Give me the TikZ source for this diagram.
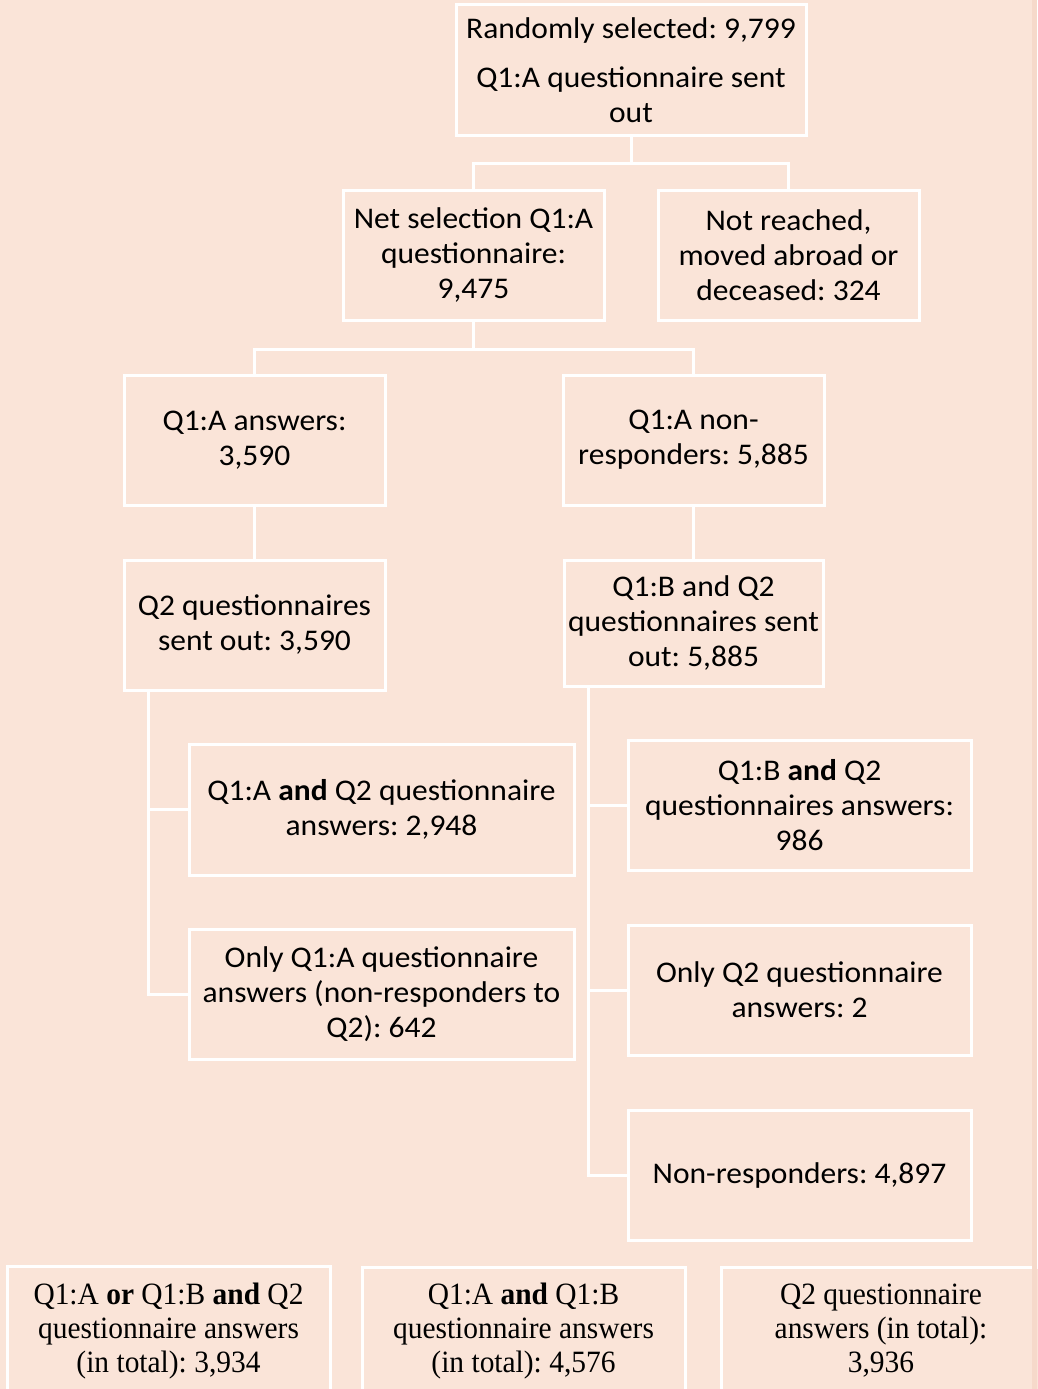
\documentclass[tikz,border=0pt]{standalone}
\usepackage{fontspec}
\setmainfont{Carlito}[FakeStretch=1.05]
\newfontfamily\tnr[FakeStretch=0.95]{Liberation Serif}
\usetikzlibrary{calc}
\definecolor{bg}{HTML}{FAE4D8}
\definecolor{strip}{HTML}{F6D9CA}
\frenchspacing
\tikzset{
  box/.style={draw=white, line width=3pt, fill=bg, rectangle, inner sep=0pt, align=center,
    font=\fontsize{30}{35}\selectfont, text=black},
  sbox/.style={box, font=\tnr\fontsize{31}{34}\selectfont},
  conn/.style={draw=white, line width=3pt}
}
\begin{document}
\begin{tikzpicture}[x=1pt,y=-1pt]
\fill[bg] (0,0) rectangle (1037,1389);
\useasboundingbox (0,0) rectangle (1037,1389);
% main boxes
\node[box, minimum width=350, minimum height=130] (top) at (631,70)
  {Randomly selected: 9,799\\[14pt] Q1:A questionnaire sent\\ out};
\node[box, minimum width=261, minimum height=130] (net) at (473.5,255)
  {Net selection Q1:A\\ questionnaire:\\ 9,475};
\node[box, minimum width=261, minimum height=130] (notr) at (788.5,255)
  {Not reached,\\ moved abroad or\\ deceased: 324};
\node[box, minimum width=261, minimum height=130] (ans) at (254.5,440)
  {Q1:A answers:\\ 3,590};
\node[box, minimum width=261, minimum height=130] (nonr) at (693.5,440)
  {Q1:A non-\\ responders: 5,885};
\node[box, minimum width=261, minimum height=130] (q2) at (254.5,625)
  {Q2 questionnaires\\ sent out: 3,590};
\node[box, minimum width=259, minimum height=126] (qb) at (693.5,623)
  {Q1:B and Q2\\ questionnaires sent\\ out: 5,885};
\node[box, minimum width=385, minimum height=131] (a2) at (381.5,809.5)
  {Q1:A \textbf{and} Q2 questionnaire\\ answers: 2,948};
\node[box, minimum width=385, minimum height=130] (o1) at (381.5,994)
  {Only Q1:A questionnaire\\ answers (non-responders to\\ Q2): 642};
\node[box, minimum width=343, minimum height=130] (b2) at (799.5,805)
  {Q1:B \textbf{and} Q2\\ questionnaires answers:\\ 986};
\node[box, minimum width=343, minimum height=130] (o2) at (799.5,990)
  {Only Q2 questionnaire\\ answers: 2};
\node[box, minimum width=343, minimum height=130] (nr) at (799.5,1175)
  {Non-responders: 4,897};
% connectors
\draw[conn] (top.south) -- ++(0,27) -| (net.north);
\draw[conn] (top.south) -- ++(0,27) -| (notr.north);
\draw[conn] (net.south) -- ++(0,28) -| (ans.north);
\draw[conn] (net.south) -- ++(0,28) -| (nonr.north);
\draw[conn] (ans.south) -- (q2.north);
\draw[conn] (nonr.south) -- (qb.north);
\draw[conn] ($(q2.south west)+(26,0)$) |- (a2.west);
\draw[conn] ($(q2.south west)+(26,0)$) |- (o1.west);
\draw[conn] ($(qb.south west)+(26,0)$) |- (b2.west);
\draw[conn] ($(qb.south west)+(26,0)$) |- (o2.west);
\draw[conn] ($(qb.south west)+(26,0)$) |- (nr.west);
% bottom summary boxes
\node[sbox, minimum width=323, minimum height=130] (t1) at (168.5,1331)
  {Q1:A \textbf{or} Q1:B \textbf{and} Q2\\ questionnaire answers\\ (in total): 3,934};
\node[sbox, minimum width=323, minimum height=128] (t2) at (523.5,1331)
  {Q1:A \textbf{and} Q1:B\\ questionnaire answers\\ (in total): 4,576};
\node[sbox, minimum width=320, minimum height=128] (t3) at (881,1331)
  {Q2 questionnaire\\ answers (in total):\\ 3,936};
\fill[strip] (1032,0) rectangle (1037,1389);
\end{tikzpicture}
\end{document}
